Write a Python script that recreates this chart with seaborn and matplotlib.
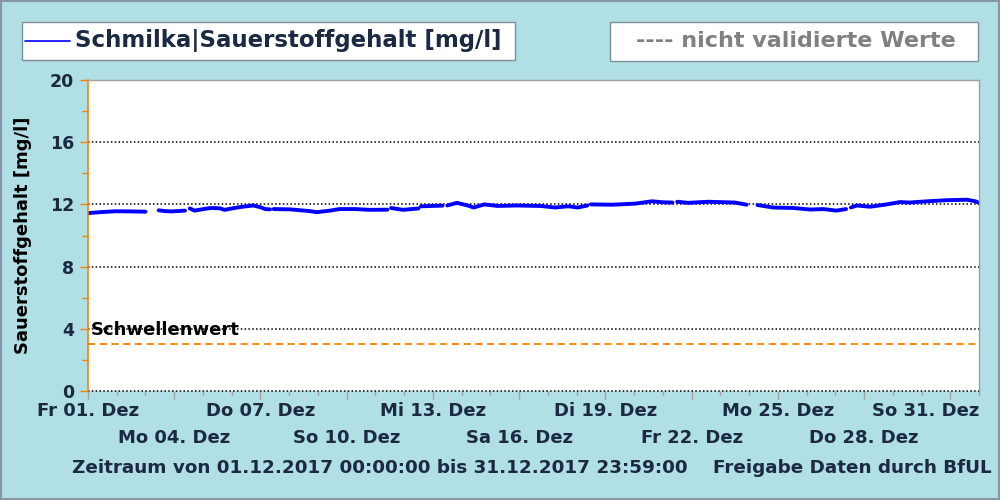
import numpy as np
import pandas as pd
import matplotlib
matplotlib.use("Agg")
import matplotlib.pyplot as plt
from matplotlib.patches import Rectangle
from matplotlib.lines import Line2D
import seaborn as sns

# hours since 01.12.2017 00:00, grouped into measured segments (gaps = no data)
seg_hours = [
    [0, 10, 23, 35, 48],
    [59, 64, 70, 81],
    [85, 89, 98, 103, 110, 114, 123, 129, 138, 144, 148, 152],
    [155, 169, 185, 191, 202, 210, 223, 235, 250],
    [253, 263, 276],
    [278, 287, 296],
    [300, 308, 317, 322, 331, 342, 358, 378, 390, 401, 409, 417],
    [420, 438, 457, 471, 479, 488],
    [492, 501, 518, 540, 550],
    [559, 572, 589, 603, 614, 625, 633],
    [637, 642, 653, 667, 678, 686, 701, 717, 734, 741, 744],
]
seg_values = [
    [11.44, 11.50, 11.56, 11.55, 11.53],
    [11.62, 11.57, 11.55, 11.60],
    [11.74, 11.60, 11.72, 11.77, 11.75, 11.65, 11.78, 11.85, 11.93, 11.82, 11.70, 11.68],
    [11.70, 11.68, 11.57, 11.50, 11.60, 11.70, 11.70, 11.65, 11.66],
    [11.77, 11.65, 11.74],
    [11.88, 11.90, 11.92],
    [11.93, 12.10, 11.93, 11.80, 12.00, 11.90, 11.93, 11.90, 11.80, 11.88, 11.80, 11.93],
    [12.00, 11.98, 12.05, 12.20, 12.14, 12.12],
    [12.17, 12.10, 12.17, 12.12, 11.98],
    [11.96, 11.80, 11.77, 11.67, 11.70, 11.60, 11.70],
    [11.80, 11.93, 11.85, 12.00, 12.15, 12.12, 12.20, 12.27, 12.30, 12.20, 12.10],
]
threshold = 3.0

row1_days = [0, 6, 12, 18, 24, 30]
row1_labels = ["Fr 01. Dez", "Do 07. Dez", "Mi 13. Dez", "Di 19. Dez", "Mo 25. Dez", "So 31. Dez"]
row2_days = [3, 9, 15, 21, 27]
row2_labels = ["Mo 04. Dez", "So 10. Dez", "Sa 16. Dez", "Fr 22. Dez", "Do 28. Dez"]
y_ticks = [0, 4, 8, 12, 16, 20]

rows = []
for i, (hh, vv) in enumerate(zip(seg_hours, seg_values)):
    for h, v in zip(hh, vv):
        rows.append({"seg": i, "day": h / 24.0, "value": v})
df = pd.DataFrame(rows)

BG = "#b0dfe5"
NAVY = "#1c2942"
ORANGE = "#ff8000"
GRAY_TICK = "#a0a0a0"

sns.set_theme(style="white")
plt.rcParams["font.family"] = ["DejaVu Sans"]

fig = plt.figure(figsize=(10, 5), dpi=100, facecolor=BG)
fig.patches.append(Rectangle((0.001, 0.002), 0.998, 0.996, transform=fig.transFigure,
                             fill=False, edgecolor="#8a96a8", lw=1.5))
ax = fig.add_axes([0.088, 0.218, 0.891, 0.622])
ax.set_facecolor("white")

sns.lineplot(data=df, x="day", y="value", units="seg", estimator=None,
             color="#0000ff", lw=2.8, ax=ax, legend=False)
ax.axhline(threshold, color=ORANGE, lw=1.3, ls=(0, (4, 2.5)))
for yv in [4, 8, 12, 16]:
    ax.axhline(yv, color="black", lw=1.1, ls=(0, (1, 1.5)), zorder=1)
ax.axhline(0, color="black", lw=1.1, ls=(0, (1, 1.5)), zorder=1, clip_on=False)

ax.set_xlim(0, 31)
ax.set_ylim(0, 20)

for s in ["top", "right"]:
    ax.spines[s].set_color("#a0a0a0")
    ax.spines[s].set_linewidth(1)
ax.spines["left"].set_color(ORANGE)
ax.spines["left"].set_linewidth(1.2)
ax.spines["bottom"].set_visible(False)

ax.set_yticks(y_ticks)
ax.set_yticks([2, 6, 10, 14, 18], minor=True)
ax.set_yticklabels([str(t) for t in y_ticks], fontsize=12.5, fontweight="bold", color=NAVY)
ax.tick_params(axis="y", which="major", direction="out", length=6, width=1, color=ORANGE, pad=4, left=True)
ax.tick_params(axis="y", which="minor", direction="out", length=4, width=1, color=ORANGE, left=True)

ax.set_xticks(list(range(0, 31, 3)))
ax.set_xticks(list(range(0, 32)), minor=True)
ax.set_xticklabels([])
ax.tick_params(axis="x", which="major", direction="out", length=6, width=1, color=GRAY_TICK, bottom=True)
ax.tick_params(axis="x", which="minor", direction="out", length=3, width=1, color=GRAY_TICK, bottom=True)

trans = ax.get_xaxis_transform()
for d, lab in zip(row1_days, row1_labels):
    if d == row1_days[-1]:
        ax.text(31, -0.065, lab, transform=trans, ha="right", va="center",
                fontsize=13, fontweight="bold", color=NAVY)
    else:
        ax.text(d, -0.065, lab, transform=trans, ha="center", va="center",
                fontsize=13, fontweight="bold", color=NAVY)
for d, lab in zip(row2_days, row2_labels):
    ax.text(d, -0.152, lab, transform=trans, ha="center", va="center",
            fontsize=13, fontweight="bold", color=NAVY)

ax.set_xlabel("")
ax.set_ylabel("Sauerstoffgehalt [mg/l]", fontsize=13, fontweight="bold", color="black")
ax.yaxis.set_label_coords(-0.063, 0.5)
ax.text(0.1, 3.95, "Schwellenwert", ha="left", va="center", fontsize=13,
        fontweight="bold", color="black")

# legend boxes
fig.patches.append(Rectangle((0.022, 1 - 0.120), 0.493, 0.076, transform=fig.transFigure,
                             facecolor="white", edgecolor="#7f8f99", lw=1))
fig.lines.append(Line2D([0.025, 0.070], [0.918, 0.918], transform=fig.transFigure,
                        color="#0000ff", lw=1.2))
fig.text(0.075, 0.918, "Schmilka|Sauerstoffgehalt [mg/l]", ha="left", va="center",
         fontsize=16.5, fontweight="bold", color=NAVY)
fig.patches.append(Rectangle((0.610, 1 - 0.122), 0.368, 0.078, transform=fig.transFigure,
                             facecolor="white", edgecolor="#7f8f99", lw=1))
fig.text(0.796, 0.918, "---- nicht validierte Werte", ha="center", va="center",
         fontsize=16, fontweight="bold", color="#808080")

fig.text(0.072, 0.064, "Zeitraum von 01.12.2017 00:00:00 bis 31.12.2017 23:59:00",
         ha="left", va="center", fontsize=13.2, fontweight="bold", color=NAVY)
fig.text(0.992, 0.064, "Freigabe Daten durch BfUL", ha="right", va="center",
         fontsize=13.2, fontweight="bold", color=NAVY)

fig.savefig("out.png", dpi=100, facecolor=BG)
